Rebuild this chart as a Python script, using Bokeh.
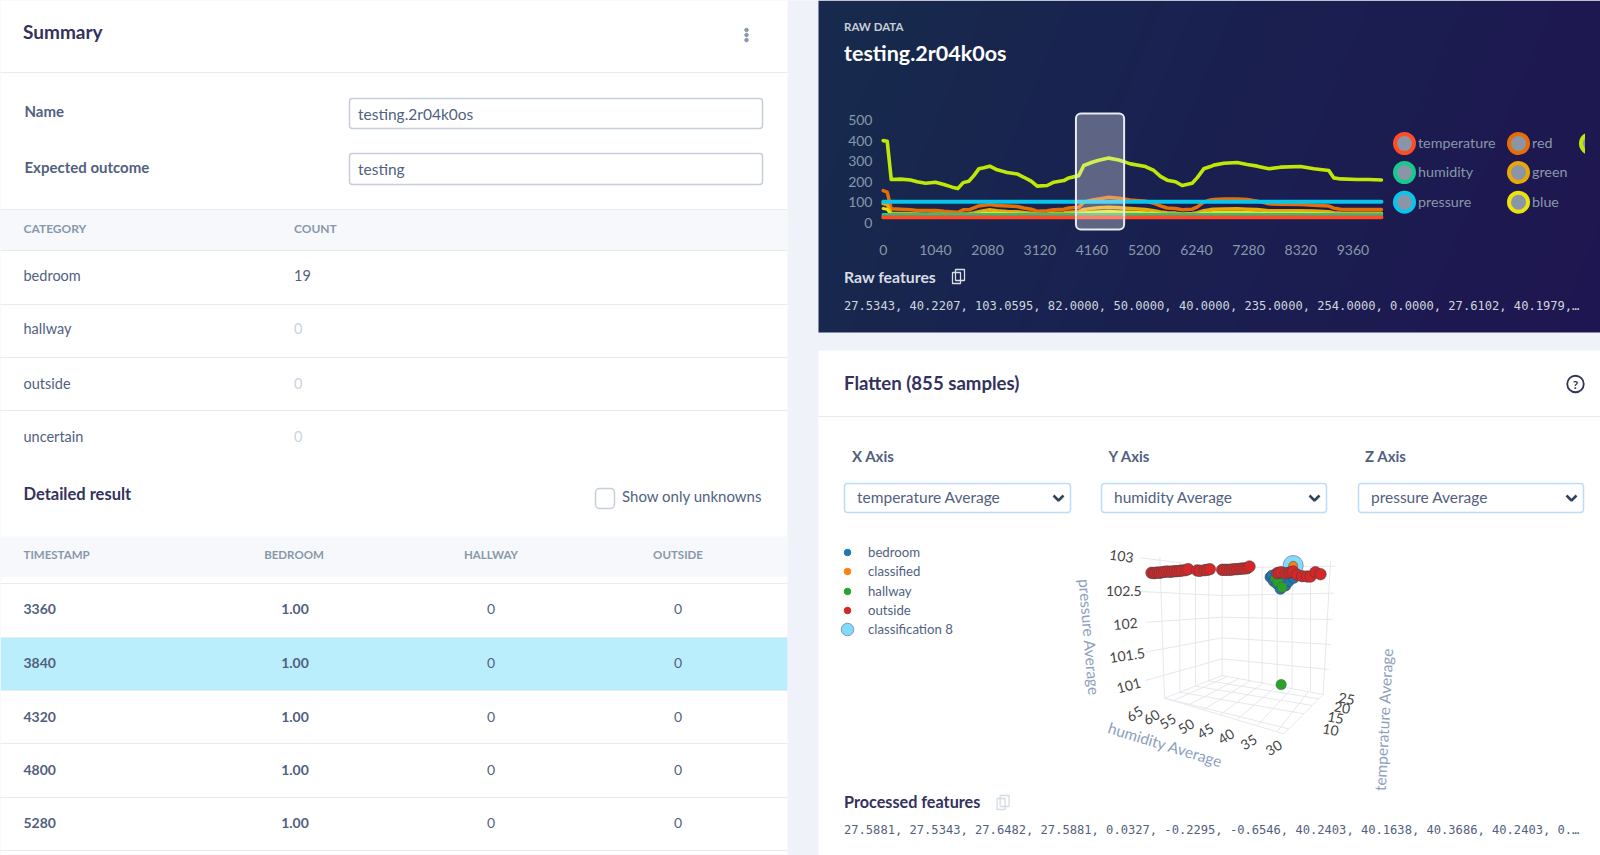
import numpy as np
from bokeh.plotting import figure
from bokeh.core.properties import value
from bokeh.models import Range1d, BoxAnnotation, FixedTicker, LinearAxis
from bokeh.embed import file_html
from bokeh.resources import INLINE

# ---------- data: raw signal chart ----------
timestamps = [0,80,160,345,545,677,843,1042,1208,1374,1487,1593,1706,1806,1905,2005,2124,2270,2470,2669,2802,2948,3068,3267,3400,3599,3698,3897,3997,4163,4295,4495,4694,4926,5225,5391,5524,5657,5823,5956,6155,6254,6387,6520,6588,6787,7052,7252,7451,7683,7916,8314,8580,8878,8978,9111,9443,9675,9927]
lime_values = [400,397,211,213,209,200,193,198,187,174,167,196,203,230,263,268,276,258,245,238,222,203,179,182,198,206,219,230,279,295,305,315,306,287,274,255,226,208,200,182,193,219,263,274,281,290,294,284,276,263,271,274,263,255,219,214,211,211,209]
red_values = [157,150,69,67,64,61,61,61,57,54,52,64,64,73,83,86,90,85,82,80,73,67,57,59,64,67,73,77,101,112,117,125,120,112,106,96,83,73,70,64,67,77,101,112,114,116,117,114,106,93,91,90,86,82,72,67,65,65,65]
green_values = [95,90,46,46,45,44,43,44,42,41,40,44,45,49,55,60,64,60,56,55,51,47,43,44,47,49,52,55,66,71,74,77,74,70,66,60,54,50,48,44,46,50,60,65,67,68,69,67,65,60,60,60,58,55,50,48,47,47,47]
blue_values = [70,66,40,40,39,39,38,39,38,37,37,39,39,41,44,47,49,47,45,44,42,40,38,38,40,41,43,45,50,53,55,57,55,53,50,47,44,42,41,39,40,42,47,50,51,52,52,51,50,47,47,47,46,44,42,40,40,40,40]
humidity_values = [40.2,40.2,40.2,40.2,40.3,40.2,40.2,40.1,40.2,40.2,40.3,40.2,40.2,40.2,40.1,40.2,40.2,40.3,40.2,40.2,40.2,40.1,40.2,40.2,40.2,40.3,40.2,40.2,40.2,40.2,40.1,40.2,40.2,40.3,40.2,40.2,40.2,40.2,40.1,40.2,40.2,40.3,40.2,40.2,40.2,40.2,40.1,40.2,40.2,40.3,40.2,40.2,40.2,40.2,40.1,40.2,40.2,40.2,40.2]
pressure_values = [103.1,103.1,103.0,103.0,103.1,103.0,103.0,103.0,103.1,103.0,103.0,103.0,103.1,103.0,103.0,103.0,103.1,103.0,103.0,103.0,103.1,103.0,103.0,103.0,103.1,103.0,103.0,103.0,103.1,103.0,103.0,103.0,103.1,103.0,103.0,103.0,103.1,103.0,103.0,103.0,103.1,103.0,103.0,103.0,103.1,103.0,103.0,103.0,103.1,103.0,103.0,103.0,103.1,103.0,103.0,103.0,103.1,103.0,103.0]
temperature_values = [27.5,27.5,27.6,27.6,27.5,27.6,27.6,27.5,27.6,27.6,27.5,27.6,27.6,27.5,27.6,27.6,27.5,27.6,27.6,27.5,27.6,27.6,27.5,27.6,27.6,27.5,27.6,27.6,27.5,27.6,27.6,27.5,27.6,27.6,27.5,27.6,27.6,27.5,27.6,27.6,27.5,27.6,27.6,27.5,27.6,27.6,27.5,27.6,27.6,27.5,27.6,27.6,27.5,27.6,27.6,27.5,27.6,27.6,27.5]
x_ticks = [0,1040,2080,3120,4160,5200,6240,7280,8320,9360]
y_ticks = [0,100,200,300,400,500]
window = (3840, 4800)

# ---------- data: 3D scatter, as projected plane coordinates ----------
outside_u = [333,340,345,352,358,365,372,380,388,395,403,410,418,425,435,443,470,478,492,500,508,545,552,560,568,575,582,590,598,605,612,620,627,710,716,722,735,745,752,758,770,785,800,810,825,840]
outside_v = [157,158,157,156,157,155,154,153,154,153,152,152,151,150,149,146,150,151,149,148,146,148,148,148,148,147,146,146,145,144,144,143,138,158,157,155,158,157,155,153,163,167,168,168,155,161]
bedroom_u = [690,695,700,710,720,735,745,760,720]
bedroom_v = [170,165,182,190,205,195,182,172,175]
hallway_u = [705,712,725,722]
hallway_v = [175,185,200,492]
classified_u = [758]
classified_v = [136]
classification_u = [758]
classification_v = [135]

# ---------- data: page text ----------
categories = ["bedroom","hallway","outside","uncertain"]
category_counts = ["19","0","0","0"]
result_timestamps = ["3360","3840","4320","4800","5280"]
result_bedroom = ["1.00","1.00","1.00","1.00","1.00"]
result_hallway = ["0","0","0","0","0"]
result_outside = ["0","0","0","0","0"]
raw_features = "27.5343, 40.2207, 103.0595, 82.0000, 50.0000, 40.0000, 235.0000, 254.0000, 0.0000, 27.6102, 40.1979,\u2026"
processed_features = "27.5881, 27.5343, 27.6482, 27.5881, 0.0327, -0.2295, -0.6546, 40.2403, 40.1638, 40.3686, 40.2403, 0.\u2026"

SANS = "Lato"
MONO = "DejaVu Sans Mono"
DARK = "#32325d"
MID = "#525f7f"
GREY = "#8898aa"
HAIR = "#e9ecef"
INPUT = "#c6ced9"
SELECT = "#bddcf8"

# one canvas; the two charts live on their own scales inside it
PXW, PXH = 1600, 855
tx = 52.2/1040; t0 = 882.7      # px per ms, px of t=0
vy = 0.206; v0 = 222.5          # px per unit, px of value 0
bg = figure(output_backend="svg", toolbar_location=None, x_axis_type=None, y_axis_type=None,
            outline_line_color=None, min_border=0, width=PXW, height=PXH,
            x_range=Range1d(0,PXW), y_range=Range1d(PXH,0))
bg.background_fill_color = "#f0f2f9"
bg.border_fill_color = "#f0f2f9"
bg.extra_x_ranges = {"t": Range1d((0-t0)/tx,(PXW-t0)/tx), "u": Range1d(-1040*3,(PXW-1040)*3)}
bg.extra_y_ranges = {"v": Range1d((v0-PXH)/vy,(v0-0)/vy), "w": Range1d((PXH-520)*3,-520*3)}

def T(x, y, s, size, color=MID, font=SANS, bold=False, align="left", angle=0):
    bg.text([x-0.5],[y-1],text=[s],text_font=value(font),text_font_size=f"{size}px",text_color=color,
            text_font_style="bold" if bold else "normal",text_align=align,text_baseline="middle",angle=angle)

def R(x0,x1,y0,y1,c):
    bg.quad(left=[x0],right=[x1],top=[y0],bottom=[y1],fill_color=c,line_color=None)

def L(x0,x1,y,c=HAIR,w=1):
    bg.segment([x0],[y],[x1],[y],line_color=c,line_width=w)

def B(x0,x1,y0,y1,c,w=1.5,r=3):
    bg.add_layout(BoxAnnotation(left=x0,right=x1,top=y0,bottom=y1,fill_alpha=0,line_color=c,line_width=w,
                                line_alpha=1,border_radius=r,level="annotation"))

# left panel
R(0,787,0,855,"#ffffff")
T(23,32,"Summary",19,DARK,bold=True)
for y in (29.5,34.5,39.5):
    bg.scatter([746],[y],size=3.5,color=GREY)
L(0,787,72)
T(24.5,111,"Name",15,MID,bold=True)
T(24.5,167,"Expected outcome",15,MID,bold=True)
B(349,762,98,128,INPUT)
B(349,762,153,184,INPUT)
T(358,114,"testing.2r04k0os",15.5,MID)
T(358,169,"testing",15.5,MID)
R(0,787,209,250,"#f6f8fc")
L(0,787,209); L(0,787,250)
T(23.5,229,"CATEGORY",12,GREY,bold=True)
T(294,229,"COUNT",12,GREY,bold=True)
for y,c,n,col in zip((276,329,383.5,436.5),categories,category_counts,(MID,"#ccd3df","#ccd3df","#ccd3df")):
    T(23.5,y,c,14.5,MID)
    T(294,y,n,14.5,col)
for y in (304,357,410):
    L(0,787,y)
T(23.5,494,"Detailed result",16.5,DARK,bold=True)
B(595,614,488,508,INPUT,r=4)
T(622,496,"Show only unknowns",15,MID)
R(0,787,536,576,"#f6f8fc")
L(0,787,583)
T(23.5,555,"TIMESTAMP",11.5,GREY,bold=True)
T(294,555,"BEDROOM",11.5,GREY,bold=True,align="center")
T(491,555,"HALLWAY",11.5,GREY,bold=True,align="center")
T(678,555,"OUTSIDE",11.5,GREY,bold=True,align="center")
R(0,787,637,690,"#bbeefc")
for y in (637,690,743,797,850):
    L(0,787,y)
for y,a,b,c,d in zip((609,663,717,770,823),result_timestamps,result_bedroom,result_hallway,result_outside):
    T(23.5,y,a,14,MID,bold=True)
    T(295,y,b,14,MID,bold=True,align="center")
    T(491,y,c,14,MID,align="center")
    T(678,y,d,14,MID,align="center")

# dark panel, diagonal gradient
h, w = 332, 782
gy, gx = np.mgrid[0:h,0:w]
g = (gx/w*0.85 + gy/h*0.15)
stops = np.array([[0x17,0x2b,0x4d],[0x1a,0x20,0x51],[0x1f,0x16,0x50]],dtype=float)
rgb = np.stack([np.interp(g,[0,0.5,1],stops[:,i]) for i in range(3)],axis=-1).astype(np.uint32)
img = (255<<24)|(rgb[...,2]<<16)|(rgb[...,1]<<8)|rgb[...,0]
bg.image_rgba(image=[img.astype(np.uint32)],x=[818],y=[0],dw=[w],dh=[h])
T(844,27,"RAW DATA",11.5,"#c8cdd8",bold=True)
T(844,53.5,"testing.2r04k0os",21.5,"#ffffff",bold=True)
T(844,277,"Raw features",15.8,"#d8dde6",bold=True)
T(844,306,raw_features,12.1,"#d0d5de",font=MONO)

def copy_icon(x,y,c):
    bg.quad(left=[x-6],right=[x+2],top=[y-4],bottom=[y+7],fill_color=None,line_color=c,line_width=1.3)
    bg.quad(left=[x-3],right=[x+6],top=[y-7],bottom=[y+4],fill_color=None,line_color=c,line_width=1.3)
copy_icon(958,276,"#d8dde6")

# flatten panel
R(818,1600,350,855,"#ffffff")
T(844,383,"Flatten (855 samples)",18.6,DARK,bold=True)
bg.scatter([1575],[383.5],size=16.5,fill_color=None,line_color=DARK,line_width=1.8)
T(1575.5,385,"?",12,DARK,bold=True,align="center")
L(818,1600,416)
for x,s in zip((852,1108.5,1365),("X Axis","Y Axis","Z Axis")):
    T(x,456.5,s,15,MID,bold=True)
for x0,x1,s in zip((844,1101,1358),(1070,1326,1583),("temperature Average","humidity Average","pressure Average")):
    B(x0,x1,483,512,SELECT)
    T(x0+13,497,s,15.5,MID)
    bg.line([x1-17,x1-12,x1-7],[495,500,495],line_color="#33415c",line_width=2.5)
T(844,802,"Processed features",16.2,DARK,bold=True)
copy_icon(1002.6,802,"#d5dbe6")
T(844,830,processed_features,12.1,MID,font=MONO)

# 3D scatter legend
legend3d = [("bedroom","#1f77b4"),("classified","#ff7f0e"),("hallway","#2ca02c"),("outside","#d62728")]
for y,(n,c) in zip((552,571,591,610),legend3d):
    bg.scatter([847],[y],size=6.5,color=c)
    T(868,y,n,13.2,MID)
bg.scatter([847],[629],size=12.5,fill_color="#7fdbff",line_color="#8a96a8",line_width=1)
T(868,629,"classification 8",13.2,MID)

# raw chart legend
chart_legend = [("temperature","#ff4c25",1404,143),("humidity","#16c98d",1404,172),("pressure","#09c5ec",1404,201.7),
                ("red","#e76d06",1518,143),("green","#e9a808",1518,172),("blue","#ece20f",1518,201.7)]
for n,c,x,y in chart_legend:
    bg.scatter([x],[y],size=19,fill_color="#8a96a8",line_color=c,line_width=4)
    T(x+14,y,n,14.3,GREY)
bg.scatter([1590],[143],size=19,fill_color="#8a96a8",line_color="#bfe708",line_width=4)
R(1584.5,1600,125,161,"#1e1850")

# ---------- raw signal chart ----------
xa = LinearAxis(x_range_name="t", y_range_name="v", fixed_location=-46.1, ticker=FixedTicker(ticks=x_ticks))
ya = LinearAxis(x_range_name="t", y_range_name="v", fixed_location=-54, ticker=FixedTicker(ticks=y_ticks))
for ax in (xa,ya):
    ax.axis_line_color = None
    ax.major_tick_line_color = None
    ax.minor_tick_line_color = None
    ax.major_label_text_color = GREY
    ax.major_label_text_font = SANS
    ax.major_label_text_font_size = "14px"
xa.major_label_standoff = 7
ya.major_label_standoff = 2
bg.add_layout(xa,"below")
bg.add_layout(ya,"left")
series = [(lime_values,"#bfe708",3.6),(red_values,"#e76d06",3.5),(green_values,"#e9a808",3.5),(blue_values,"#ece20f",3),
          (humidity_values,"#16c98d",3.5),(pressure_values,"#09c5ec",4),(temperature_values,"#ff4c25",4)]
for vals,c,lw in series:
    bg.line(timestamps,vals,x_range_name="t",y_range_name="v",line_color=c,line_width=lw,line_join="round",line_cap="round")
bg.add_layout(BoxAnnotation(x_range_name="t",y_range_name="v",left=window[0],right=window[1],bottom=-31,top=531,
                            fill_color="#ffffff",fill_alpha=0.3,line_color="#e8eaf0",line_alpha=1,line_width=2,
                            border_radius=5,level="annotation"))

# ---------- projected 3D scatter ----------
pressure_lines = [[(300,112),(545,142),(885,137)],[(300,213),(545,225),(880,218)],[(318,305),(545,290),(875,297)],
                  [(315,395),(545,352),(870,372)],[(315,480),(545,415),(865,447)]]
vertical_lines = [[(358,110),(372,533)],[(418,125),(418,515)],[(465,132),(465,497)],[(505,138),(505,481)],[(545,142),(545,465)],
                  [(625,141),(625,480)],[(665,140),(665,487)],[(710,139),(710,495)],[(755,139),(755,503)],[(810,138),(810,512)],[(870,122),(848,522)]]
floor_lines = [[(372,533),(730,640),(848,522),(545,465),(372,533)],
               [(400,540),(560,468)],[(445,553),(595,474)],[(490,567),(630,480)],[(540,582),(668,487)],[(590,597),(710,495)],[(650,615),(755,503)],[(710,633),(805,512)],
               [(745,625),(372,533)],[(790,580),(418,515)],[(815,555),(465,497)],[(835,535),(505,481)]]
allg = pressure_lines+vertical_lines+floor_lines
S3 = dict(x_range_name="u",y_range_name="w")
bg.multi_line([[p[0] for p in l] for l in allg],[[p[1] for p in l] for l in allg],line_color="#e6e8ec",line_width=1,**S3)

def ST(x,y,s,size,c,angle):
    bg.text([x],[y],text=[s],text_font=value(SANS),text_font_size=f"{size}px",text_color=c,text_align="center",text_baseline="middle",angle=angle,angle_units="deg",**S3)
ticks_p = [(243,107,"103",-8),(250,210,"102.5",0),(255,310,"102",5),(260,405,"101.5",8),(265,495,"101",15)]
ticks_h = [(283,580,"65"),(333,590,"60"),(382,603,"55"),(437,618,"50"),(495,632,"45"),(557,648,"40"),(625,665,"35"),(700,682,"30")]
ticks_t = [(918,535,"25"),(905,562,"20"),(885,592,"15"),(870,628,"10")]
for x,y,s,a in ticks_p:
    ST(x,y,s,14,"#444444",a)
for x,y,s in ticks_h:
    ST(x,y,s,14,"#444444",32)
for x,y,s in ticks_t:
    ST(x,y,s,14,"#444444",-10)
ST(147,350,"pressure Average",15.5,"#8ea0bd",-85)
ST(375,672,"humidity Average",15.5,"#8ea0bd",-17)
ST(1029,597,"temperature Average",15.5,"#8ea0bd",87)
bg.scatter(classification_u,classification_v,size=20,fill_color="#7fdbff",line_color="#8a96a8",line_width=1,**S3)
bg.scatter(classified_u,classified_v,size=9,fill_color="#ff7f0e",line_color="#555555",line_width=0.6,**S3)
bg.scatter(bedroom_u,bedroom_v,size=11,fill_color="#1f77b4",line_color="#444444",line_width=0.6,**S3)
bg.scatter(hallway_u,hallway_v,size=10.5,fill_color="#2ca02c",line_color="#444444",line_width=0.3,**S3)
bg.scatter(outside_u,outside_v,size=11.5,fill_color="#d62728",line_color="#444444",line_width=0.6,**S3)

bg.styles = {"position":"absolute","left":"0px","top":"0px"}
open("out.html","w").write(file_html(bg, INLINE))
